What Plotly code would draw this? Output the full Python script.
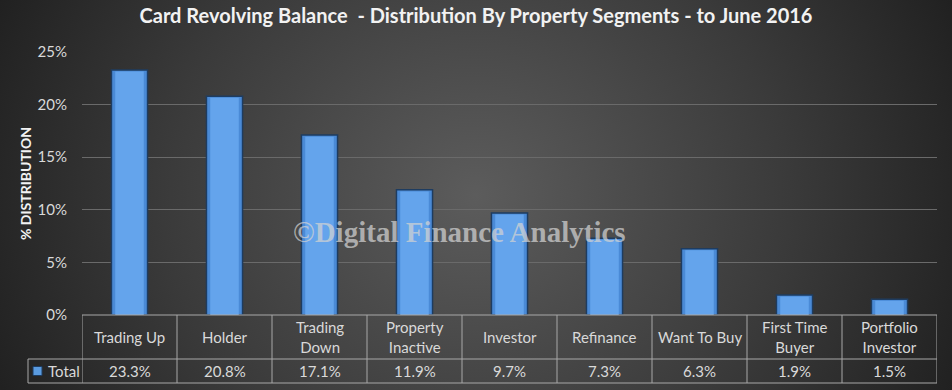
import base64
import plotly.graph_objects as go

categories = ["Trading Up", "Holder", "Trading<br>Down", "Property<br>Inactive", "Investor",
              "Refinance", "Want To Buy", "First Time<br>Buyer", "Portfolio<br>Investor"]
values = [23.3, 20.8, 17.1, 11.9, 9.7, 7.3, 6.3, 1.9, 1.5]
series_name = "Total"
y_ticks = [0, 5, 10, 15, 20, 25]
title = "Card Revolving Balance  - Distribution By Property Segments - to June 2016"

W, H = 952, 390
FONT = "Lato, 'Open Sans', sans-serif"
TXT = "#d9d9d9"
L, R, T, B = 82, 15, 52, 75
PW, PH = W - L - R, H - T - B

svg = f'''<svg xmlns="http://www.w3.org/2000/svg" width="{W}" height="{H}" viewBox="0 0 {W} {H}" preserveAspectRatio="none">
<defs><radialGradient id="g" cx="0.5" cy="0.5" r="0.6" gradientUnits="objectBoundingBox" gradientTransform="translate(0.5 0.5) scale(1 2.2) translate(-0.5 -0.5)">
<stop offset="0" stop-color="#5c5c5c"/><stop offset="0.55" stop-color="#3a3a3a"/><stop offset="1" stop-color="#1b1b1b"/></radialGradient></defs>
<rect width="{W}" height="{H}" fill="url(#g)"/></svg>'''
bg_src = "data:image/svg+xml;base64," + base64.b64encode(svg.encode()).decode()

x_idx = list(range(len(categories)))
y_vals = [v / 100 for v in values]

fig = go.Figure()
fig.add_trace(go.Bar(
    x=x_idx, y=y_vals, width=0.38,
    marker=dict(color="#4a8ad6", line=dict(color="#1e3c60", width=1.5)),
    name=series_name, hoverinfo="skip",
))
fig.add_trace(go.Bar(
    x=x_idx, y=[v - 0.0015 for v in y_vals], width=0.30,
    marker=dict(color="#64a4ec", line=dict(width=0)),
    name=series_name, hoverinfo="skip",
))

fig.update_layout(
    width=W, height=H, barmode="overlay",
    margin=dict(l=L, r=R, t=T, b=B),
    paper_bgcolor="#2a2a2a", plot_bgcolor="rgba(0,0,0,0)",
    showlegend=False,
    font=dict(family=FONT, color=TXT, size=15),
    title=dict(text=f"<b>{title}</b>", x=0.5, xanchor="center", y=1 - 9 / H, yanchor="top",
               font=dict(family=FONT, size=20, color="#f2f2f2")),
    xaxis=dict(range=[-0.5, len(categories) - 0.5], showticklabels=False, showgrid=False,
               zeroline=False, showline=False, fixedrange=True),
    yaxis=dict(range=[0, 0.25], tickvals=[t / 100 for t in y_ticks], automargin=False,
               ticktext=[f"{t}%" for t in y_ticks], showgrid=True, gridcolor="#6a6a6a",
               gridwidth=1, zeroline=False, ticks="", ticklabelstandoff=14,
               tickfont=dict(size=15, color=TXT),
               title=dict(text="<b>% DISTRIBUTION</b>", standoff=2,
                          font=dict(size=14, color="#f2f2f2"))),
    images=[dict(source=bg_src, xref="paper", yref="paper", x=-L / PW, y=1 + T / PH,
                 sizex=W / PW, sizey=H / PH, xanchor="left", yanchor="top",
                 sizing="stretch", layer="below")],
)

line_c = "#a8a8a8"
row_top, row_mid, row_bot = 0, -44 / PH, -68 / PH
left_col = -54 / PW
shapes = []
shapes.append(dict(type="line", xref="paper", yref="paper", x0=0, x1=1, y0=row_top, y1=row_top,
                   line=dict(color=line_c, width=1)))
for yy in (row_mid, row_bot):
    shapes.append(dict(type="line", xref="paper", yref="paper", x0=left_col, x1=1, y0=yy, y1=yy,
                       line=dict(color=line_c, width=1)))
for i in range(len(categories) + 1):
    shapes.append(dict(type="line", xref="x", yref="paper", x0=i - 0.5, x1=i - 0.5,
                       y0=row_top, y1=row_bot, line=dict(color=line_c, width=1)))
shapes.append(dict(type="line", xref="paper", yref="paper", x0=left_col, x1=left_col,
                   y0=row_mid, y1=row_bot, line=dict(color=line_c, width=1)))
# legend key
shapes.append(dict(type="rect", xref="paper", yref="paper", x0=-49 / PW, x1=-40 / PW,
                   y0=(row_mid + row_bot) / 2 + 4.5 / PH, y1=(row_mid + row_bot) / 2 - 4.5 / PH,
                   fillcolor="#5a9be0", line=dict(color="#1e3c60", width=1)))
fig.update_layout(shapes=shapes)

annotations = [
    dict(text="<b>©Digital Finance Analytics</b>", xref="paper", yref="paper",
         x=(459 - L) / PW, y=(315 - 232) / PH, showarrow=False,
         font=dict(family="'Liberation Serif', 'DejaVu Serif', serif", size=29,
                   color="rgba(210,210,210,0.72)"),
         xanchor="center", yanchor="middle"),
    dict(text=series_name, xref="paper", yref="paper", x=-36 / PW, y=(row_mid + row_bot) / 2,
         showarrow=False, xanchor="left", yanchor="middle", font=dict(size=15, color=TXT)),
]
for i, (c, v) in enumerate(zip(categories, values)):
    annotations.append(dict(text=c, x=i, xref="x", yref="paper", y=(row_top + row_mid) / 2,
                            showarrow=False, yanchor="middle", font=dict(size=15, color=TXT)))
    annotations.append(dict(text=f"{v:.1f}%", x=i, xref="x", yref="paper",
                            y=(row_mid + row_bot) / 2, showarrow=False, yanchor="middle",
                            font=dict(size=15, color=TXT)))
fig.update_layout(annotations=annotations)

fig.write_html("out.html", config={"displayModeBar": False, "staticPlot": True},
               post_script="document.body.style.margin='0';document.body.style.overflow='hidden';")
